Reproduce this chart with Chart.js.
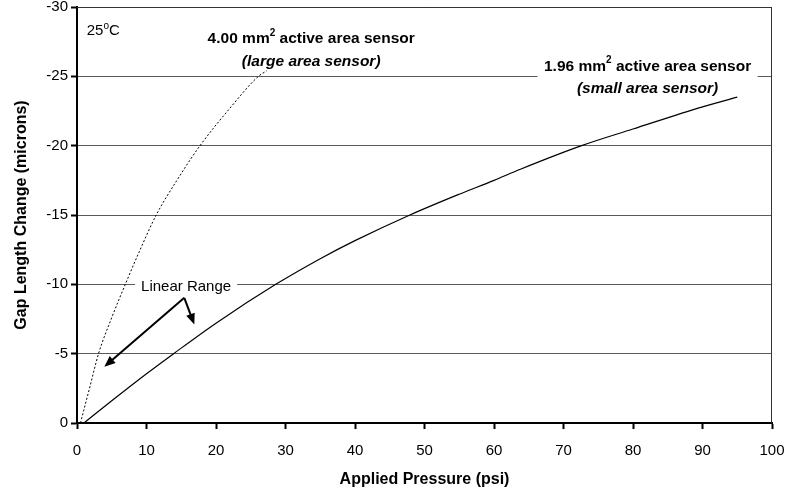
<!DOCTYPE html>
<html>
<head>
<meta charset="utf-8">
<script src="https://cdn.jsdelivr.net/npm/chart.js@4.4.1/dist/chart.umd.min.js"></script>
<style>
  html, body { margin: 0; padding: 0; background: #fff; }
  #wrap { width: 786px; height: 492px; position: relative; }
</style>
</head>
<body>
<div id="wrap"><canvas id="gap"></canvas></div>
<script>
// large area sensor (4.00 mm2), dotted curve
const largeP   = [0.5, 1.8, 3.1, 5, 6.95, 9, 11.4, 14.5, 17.7, 22, 26.1, 27.3];
const largeGap = [0, -2.5, -5, -7.6, -10, -12.4, -15, -17.6, -20, -22.7, -25, -25.4];

// small area sensor (1.96 mm2), solid curve
const smallP   = [1, 5, 10, 13.9, 20, 28.6, 35, 40, 47.9, 55, 60, 63.8, 72.6, 80, 90, 95];
const smallGap = [0, -1.6, -3.55, -5, -7.2, -10, -11.85, -13.15, -15, -16.5, -17.5, -18.3, -20, -21.2, -22.8, -23.5];

const xTicks = [0, 10, 20, 30, 40, 50, 60, 70, 80, 90, 100];
const yTicks = [-30, -25, -20, -15, -10, -5, 0];

const FONT = '"Liberation Sans", Arial, sans-serif';

const toXY = (xs, ys) => xs.map((x, i) => ({ x: x, y: ys[i] }));

// draws a line of text made of pieces (some raised as superscript), centred or left aligned
function drawPieces(ctx, pieces, x, y, align) {
  let total = 0;
  pieces.forEach(p => { ctx.font = p.font; total += ctx.measureText(p.t).width; });
  let cx = align === 'left' ? x : x - total / 2;
  ctx.textAlign = 'left';
  ctx.textBaseline = 'middle';
  pieces.forEach(p => {
    ctx.font = p.font;
    ctx.fillText(p.t, cx, y - (p.up || 0));
    cx += ctx.measureText(p.t).width;
  });
  return total;
}

function arrow(ctx, x0, y0, x1, y1) {
  const a = Math.atan2(y1 - y0, x1 - x0);
  const len = 11, half = 4.5;
  ctx.beginPath();
  ctx.moveTo(x0, y0);
  ctx.lineTo(x1 - Math.cos(a) * len * 0.8, y1 - Math.sin(a) * len * 0.8);
  ctx.stroke();
  ctx.beginPath();
  ctx.moveTo(x1, y1);
  ctx.lineTo(x1 - Math.cos(a) * len + Math.sin(a) * half, y1 - Math.sin(a) * len - Math.cos(a) * half);
  ctx.lineTo(x1 - Math.cos(a) * len - Math.sin(a) * half, y1 - Math.sin(a) * len + Math.cos(a) * half);
  ctx.closePath();
  ctx.fill();
}

const bold = '700 15.5px ' + FONT;
const boldIt = 'italic 700 15.5px ' + FONT;
const supB = '700 10px ' + FONT;

const notes = {
  id: 'notes',
  beforeDatasetsDraw(chart) {
    // white boxes that interrupt the gridlines behind labels
    const { ctx, scales: { x, y } } = chart;
    ctx.save();
    ctx.fillStyle = '#fff';
    const sx = x.getPixelForValue(82.1), sy = y.getPixelForValue(-25.7);
    ctx.fillRect(sx - 110, sy - 11, 220, 42);
    ctx.font = '15px ' + FONT;
    const w = ctx.measureText('Linear Range').width;
    const lx = x.getPixelForValue(15.7), ly = y.getPixelForValue(-9.85);
    ctx.fillRect(lx - w / 2 - 6, ly - 8, w + 12, 16);
    ctx.restore();
  },
  afterDraw(chart) {
    const { ctx, chartArea: ca, scales: { x, y } } = chart;
    ctx.save();
    // frame top and right
    ctx.strokeStyle = '#333';
    ctx.lineWidth = 1;
    ctx.beginPath();
    ctx.moveTo(ca.left, ca.top + 0.5);
    ctx.lineTo(ca.right - 0.5, ca.top + 0.5);
    ctx.lineTo(ca.right - 0.5, ca.bottom);
    ctx.stroke();

    ctx.fillStyle = '#000';
    drawPieces(ctx, [
      { t: '25', font: '15px ' + FONT },
      { t: 'o', font: '10px ' + FONT, up: 5 },
      { t: 'C', font: '15px ' + FONT }
    ], x.getPixelForValue(1.4), y.getPixelForValue(-28.25), 'left');

    let px = x.getPixelForValue(33.7), py = y.getPixelForValue(-27.7);
    drawPieces(ctx, [
      { t: '4.00 mm', font: bold },
      { t: '2', font: supB, up: 6 },
      { t: ' active area sensor', font: bold }
    ], px, py);
    drawPieces(ctx, [{ t: '(large area sensor)', font: boldIt }], px, py + 23);

    px = x.getPixelForValue(82.1); py = y.getPixelForValue(-25.7);
    drawPieces(ctx, [
      { t: '1.96 mm', font: bold },
      { t: '2', font: supB, up: 6 },
      { t: ' active area sensor', font: bold }
    ], px, py);
    drawPieces(ctx, [{ t: '(small area sensor)', font: boldIt }], px, py + 22);

    drawPieces(ctx, [{ t: 'Linear Range', font: '15px ' + FONT }],
      x.getPixelForValue(15.7), y.getPixelForValue(-9.85));

    // arrows from the "Linear Range" note
    ctx.strokeStyle = '#000';
    ctx.lineWidth = 2;
    const jx = x.getPixelForValue(15.44), jy = y.getPixelForValue(-9.03);
    arrow(ctx, jx, jy, x.getPixelForValue(3.93), y.getPixelForValue(-4.06));
    arrow(ctx, jx, jy, x.getPixelForValue(16.88), y.getPixelForValue(-7.1));
    ctx.restore();
  }
};

new Chart(document.getElementById('gap'), {
  type: 'line',
  data: {
    datasets: [{
      label: '4.00 mm2 active area sensor',
      data: toXY(largeP, largeGap),
      borderColor: '#000',
      borderWidth: 1,
      borderDash: [2, 2],
      pointRadius: 0,
      cubicInterpolationMode: 'monotone',
      fill: false
    }, {
      label: '1.96 mm2 active area sensor',
      data: toXY(smallP, smallGap),
      borderColor: '#000',
      borderWidth: 1.2,
      pointRadius: 0,
      cubicInterpolationMode: 'monotone',
      fill: false
    }]
  },
  options: {
    responsive: true,
    maintainAspectRatio: false,
    animation: false,
    layout: { padding: { top: 7, right: 14, left: 0, bottom: 0 } },
    plugins: {
      legend: { display: false },
      tooltip: { enabled: false }
    },
    scales: {
      x: {
        type: 'linear',
        min: 0,
        max: 100,
        afterFit: s => { s.height = 69; s.paddingLeft = 0; s.paddingRight = 0; },
        afterBuildTicks: s => { s.ticks = xTicks.map(v => ({ value: v })); },
        border: { color: '#000', width: 2 },
        grid: { drawOnChartArea: false, tickLength: 6, tickColor: '#000', tickWidth: 2 },
        ticks: { color: '#000', padding: 13, font: { family: FONT, size: 15 } },
        title: {
          display: true,
          text: 'Applied Pressure (psi)',
          color: '#000',
          padding: { top: 0, bottom: 3 },
          font: { family: FONT, size: 16, weight: 'bold' }
        }
      },
      y: {
        type: 'linear',
        min: -30,
        max: 0,
        reverse: true,
        afterFit: s => { s.width = 77; s.paddingTop = 0; s.paddingBottom = 0; },
        afterBuildTicks: s => { s.ticks = yTicks.map(v => ({ value: v })); },
        border: { color: '#000', width: 2 },
        grid: {
          color: ctx => (ctx.tick && ctx.tick.value === -30) ? '#333' : '#5a5a5a',
          lineWidth: 1,
          tickLength: 6,
          tickColor: '#000',
          tickWidth: 2
        },
        ticks: { color: '#000', padding: 3, font: { family: FONT, size: 15 } },
        title: {
          display: true,
          text: 'Gap Length Change (microns)',
          color: '#000',
          padding: { top: 12, bottom: 0 },
          font: { family: FONT, size: 16, weight: 'bold' }
        }
      }
    }
  },
  plugins: [notes]
});
</script>
</body>
</html>
